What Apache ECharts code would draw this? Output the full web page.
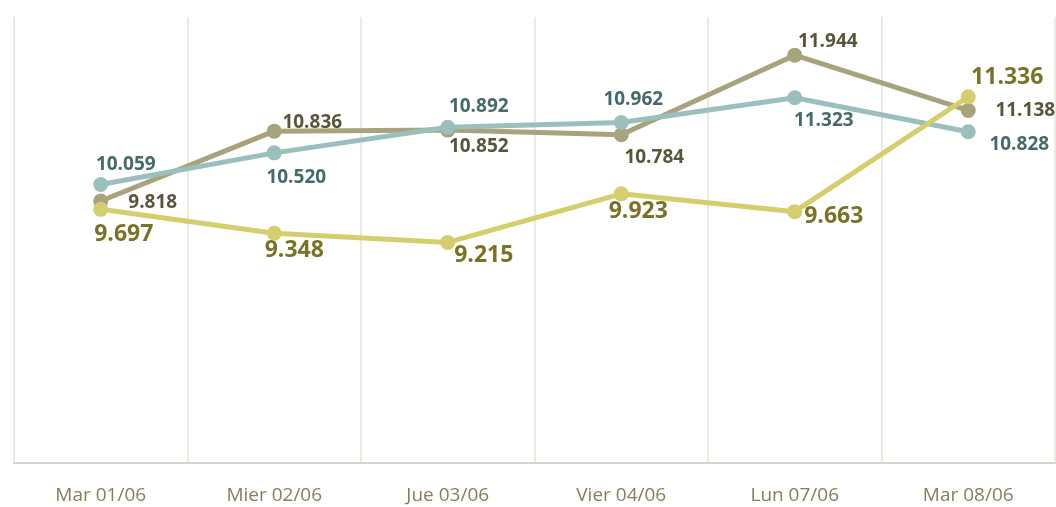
<!DOCTYPE html>
<html><head><meta charset="utf-8">
<script src="https://cdn.jsdelivr.net/npm/echarts@6/dist/echarts.min.js"></script>
<style>html,body{margin:0;padding:0;background:#fff}#c{width:1056px;height:507px}</style>
</head><body><div id="c"></div>
<script>
const categories = ['Mar 01/06','Mier 02/06','Jue 03/06','Vier 04/06','Lun 07/06','Mar 08/06'];
const oliveValues = [9.818, 10.836, 10.852, 10.784, 11.944, 11.138];
const tealValues = [10.059, 10.520, 10.892, 10.962, 11.323, 10.828];
const yellowValues = [9.697, 9.348, 9.215, 9.923, 9.663, 11.336];

// label offsets (styling, relative to each point)
const oliveOffsets = [[52,2],[38,-9],[31,17],[33,23],[33,-14],[57,0]];
const tealOffsets = [[25,-20],[22,25],[31,-21],[12,-23],[29,23],[51,13]];
const yellowOffsets = [[23,25],[20,17],[36,13],[17,18],[39,5],[39,-19]];

function fmt(v){ return v.toFixed(3); }
function build(values, offsets, labelColor, size, weight){
  return values.map((v,i)=>({
    value: v,
    label: {show:true, position:'inside', offset: offsets[i], formatter: fmt(v),
      color: labelColor, fontSize: size, fontWeight: weight, fontFamily: 'Open Sans'}
  }));
}
const chart = echarts.init(document.getElementById('c'), null, {renderer:'canvas'});
chart.setOption({
  animation:false,
  grid:{left:14, right:1, top:17, bottom:44},
  xAxis:{type:'category', data:categories, boundaryGap:true,
    axisLine:{show:true, lineStyle:{color:'#d8d6cc', width:2}},
    axisTick:{show:false},
    axisLabel:{color:'#8a7d5c', fontSize:19, fontFamily:'Open Sans', margin:23},
    splitLine:{show:true, lineStyle:{color:'#e6e4da', width:1.5}}
  },
  yAxis:{type:'value', min:6, max:12.5, show:false, splitLine:{show:false}},
  series:[
    {type:'line', data: build(oliveValues, oliveOffsets, '#57553a', 19, 'bold'),
      lineStyle:{color:'#a8a37c', width:5}, itemStyle:{color:'#a8a37c'}, symbol:'circle', symbolSize:15},
    {type:'line', data: build(tealValues, tealOffsets, '#456a69', 19, 'bold'),
      lineStyle:{color:'#9bbfbd', width:5}, itemStyle:{color:'#9bbfbd'}, symbol:'circle', symbolSize:15},
    {type:'line', data: build(yellowValues, yellowOffsets, '#7a7326', 23, 'bold'),
      lineStyle:{color:'#d4ce6c', width:5}, itemStyle:{color:'#d4ce6c'}, symbol:'circle', symbolSize:15}
  ]
});
</script></body></html>
